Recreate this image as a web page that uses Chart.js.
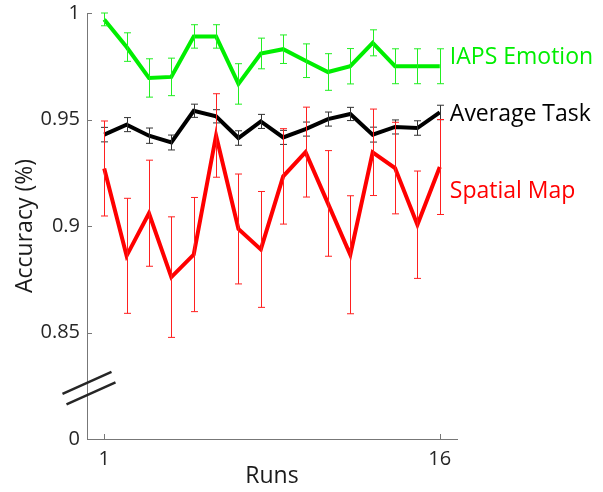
<!DOCTYPE html>
<html>
<head>
<meta charset="utf-8">
<title>Accuracy by run</title>
<script src="https://cdn.jsdelivr.net/npm/chart.js@4.4.0/dist/chart.umd.min.js"></script>
<style>
    html, body { margin: 0; padding: 0; background: #ffffff; }
    #wrap { width: 603px; height: 492px; }
</style>
</head>
<body>
<div id="wrap"><canvas id="acc-chart" width="603" height="492"></canvas></div>
<script>

// 데이터
const runs = [1, 2, 3, 4, 5, 6, 7, 8, 9, 10, 11, 12, 13, 14, 15, 16];

const emotionAcc = [0.997, 0.984, 0.9695, 0.970, 0.989, 0.989, 0.9667, 0.981, 0.983, 0.9776, 0.9723, 0.975, 0.986, 0.975, 0.975, 0.975];
const emotionErr = [0.003, 0.0067, 0.009, 0.0088, 0.0055, 0.0055, 0.0095, 0.0072, 0.0067, 0.0079, 0.0086, 0.0083, 0.0061, 0.0082, 0.0082, 0.0082];

const averageAcc = [0.9429, 0.9476, 0.9424, 0.9392, 0.9541, 0.9515, 0.9413, 0.9491, 0.9416, 0.9455, 0.9502, 0.9526, 0.9429, 0.9465, 0.946, 0.9533];
const averageErr = [0.0034, 0.0033, 0.0036, 0.0035, 0.0031, 0.0031, 0.0034, 0.0033, 0.0033, 0.0033, 0.0033, 0.0031, 0.0035, 0.0033, 0.0034, 0.0034];

const spatialAcc = [0.927, 0.886, 0.906, 0.876, 0.8866, 0.9425, 0.8986, 0.889, 0.9233, 0.9347, 0.9106, 0.8865, 0.9346, 0.9272, 0.9006, 0.9277];
const spatialErr = [0.0223, 0.027, 0.0249, 0.0283, 0.0268, 0.0196, 0.0258, 0.0272, 0.0224, 0.0211, 0.0248, 0.0277, 0.0203, 0.0215, 0.0252, 0.0223];

const seriesNames = ["IAPS Emotion", "Spatial Map", "Average Task"];

// 축 눈금 (0.8 위치에 "0" 표시 - 축 끊김)
const yTickValues = [0.8, 0.85, 0.9, 0.95, 1];
const yTickLabels = ["0", "0.85", "0.9", "0.95", "1"];
const xTickValues = [1, 16];


window.addEventListener("load", function () {
    bind();
});


function bind() {

    const colorSet = ["#00ee00", "#ff0000", "#000000"];
    const errColor = ["#22ee22", "#ff2020", "#333333"];
    const accSet = [emotionAcc, spatialAcc, averageAcc];
    const errSet = [emotionErr, spatialErr, averageErr];

    // 시리즈 이름 위치 (데이터 좌표)
    const nameAnchor = [[16.45, 0.9761], [16.45, 0.9133], [16.45, 0.9494]];
    const breakValue = 0.8264;

    const axisColor = "#777777";
    const tickColor = "#262626";
    const fontName = "'Open Sans', 'DejaVu Sans', sans-serif";

    let datasets = [];
    for (let i = 0; i < seriesNames.length; i++) {
        datasets.push({
            label: seriesNames[i],
            data: runs.map(function (r, k) { return { x: r, y: accSet[i][k] }; }),
            borderColor: colorSet[i],
            backgroundColor: colorSet[i],
            borderWidth: 4,
            pointRadius: 0,
            tension: 0,
            fill: false
        });
    }

    // 에러바 (각 데이터셋 그린 후)
    const errorBarPlugin = {
        id: "errorBars",
        afterDatasetDraw: function (chart, args) {
            let i = args.index;
            let ctx = chart.ctx;
            let xs = chart.scales.x;
            let ys = chart.scales.y;
            ctx.save();
            ctx.strokeStyle = errColor[i];
            ctx.lineWidth = 1;
            for (let k = 0; k < runs.length; k++) {
                let px = Math.round(xs.getPixelForValue(runs[k])) + 0.5;
                let top = ys.getPixelForValue(accSet[i][k] + errSet[i][k]);
                let bot = ys.getPixelForValue(accSet[i][k] - errSet[i][k]);
                ctx.beginPath();
                ctx.moveTo(px, top);
                ctx.lineTo(px, bot);
                ctx.moveTo(px - 3.5, top);
                ctx.lineTo(px + 3.5, top);
                ctx.moveTo(px - 3.5, bot);
                ctx.lineTo(px + 3.5, bot);
                ctx.stroke();
            }
            ctx.restore();
        }
    };

    // 안쪽 눈금, 축 끊김 표시, 시리즈 이름
    const decorPlugin = {
        id: "decor",
        afterDraw: function (chart) {
            let ctx = chart.ctx;
            let xs = chart.scales.x;
            let ys = chart.scales.y;
            let area = chart.chartArea;
            ctx.save();

            ctx.strokeStyle = axisColor;
            ctx.lineWidth = 1;
            ctx.beginPath();
            for (let i = 0; i < yTickValues.length; i++) {
                let py = Math.round(ys.getPixelForValue(yTickValues[i])) + 0.5;
                ctx.moveTo(area.left, py);
                ctx.lineTo(area.left + 5, py);
            }
            for (let i = 0; i < xTickValues.length; i++) {
                let px = Math.round(xs.getPixelForValue(xTickValues[i])) + 0.5;
                ctx.moveTo(px, area.bottom);
                ctx.lineTo(px, area.bottom - 5);
            }
            ctx.stroke();

            // 축 끊김 //
            let by = ys.getPixelForValue(breakValue);
            ctx.strokeStyle = "#262626";
            ctx.lineWidth = 2.5;
            ctx.beginPath();
            ctx.moveTo(area.left - 24.5, by + 11);
            ctx.lineTo(area.left + 24.5, by - 11);
            ctx.moveTo(area.left - 20.5, by + 21.5);
            ctx.lineTo(area.left + 28.5, by - 0.5);
            ctx.stroke();

            ctx.font = "23px " + fontName;
            ctx.textAlign = "left";
            ctx.textBaseline = "alphabetic";
            for (let i = 0; i < seriesNames.length; i++) {
                ctx.fillStyle = colorSet[i];
                ctx.fillText(seriesNames[i], xs.getPixelForValue(nameAnchor[i][0]), ys.getPixelForValue(nameAnchor[i][1]));
            }
            ctx.restore();
        }
    };

    let accChart = new Chart(document.getElementById("acc-chart"), {
        type: "line",
        data: { datasets: datasets },
        plugins: [errorBarPlugin, decorPlugin],
        options: {
            responsive: false,
            animation: false,
            layout: { padding: { top: 13, right: 146, left: 0, bottom: 0 } },
            plugins: {
                legend: { display: false },
                tooltip: { enabled: false }
            },
            scales: {
                x: {
                    type: "linear",
                    min: 0.23,
                    max: 16.77,
                    afterBuildTicks: function (scale) {
                        scale.ticks = xTickValues.map(function (v) { return { value: v }; });
                    },
                    afterFit: function (scale) {
                        scale.height = 53;
                        scale.paddingLeft = 0;
                        scale.paddingRight = 0;
                    },
                    grid: { display: false, drawTicks: false },
                    border: { display: true, color: axisColor, width: 1 },
                    ticks: {
                        autoSkip: false,
                        maxRotation: 0,
                        padding: 8,
                        color: tickColor,
                        font: { family: fontName, size: 20 },
                        callback: function (v) { return String(v); }
                    },
                    title: {
                        display: true,
                        text: "Runs",
                        color: "#1a1a1a",
                        font: { family: fontName, size: 23 },
                        padding: { top: 0, bottom: 2 }
                    }
                },
                y: {
                    type: "linear",
                    min: 0.8,
                    max: 1,
                    afterBuildTicks: function (scale) {
                        scale.ticks = yTickValues.map(function (v) { return { value: v }; });
                    },
                    afterFit: function (scale) {
                        scale.width = 87;
                        scale.paddingTop = 0;
                        scale.paddingBottom = 0;
                    },
                    grid: { display: false, drawTicks: false },
                    border: { display: true, color: axisColor, width: 1 },
                    ticks: {
                        autoSkip: false,
                        padding: 7,
                        color: tickColor,
                        font: { family: fontName, size: 20 },
                        callback: function (v) {
                            let idx = yTickValues.findIndex(function (t) { return Math.abs(t - v) < 1e-6; });
                            return idx >= 0 ? yTickLabels[idx] : "";
                        }
                    },
                    title: {
                        display: true,
                        text: "Accuracy (%)",
                        color: "#1a1a1a",
                        font: { family: fontName, size: 23 },
                        padding: { top: 12, bottom: 0 }
                    }
                }
            }
        }
    });
}

</script>
</body>
</html>
